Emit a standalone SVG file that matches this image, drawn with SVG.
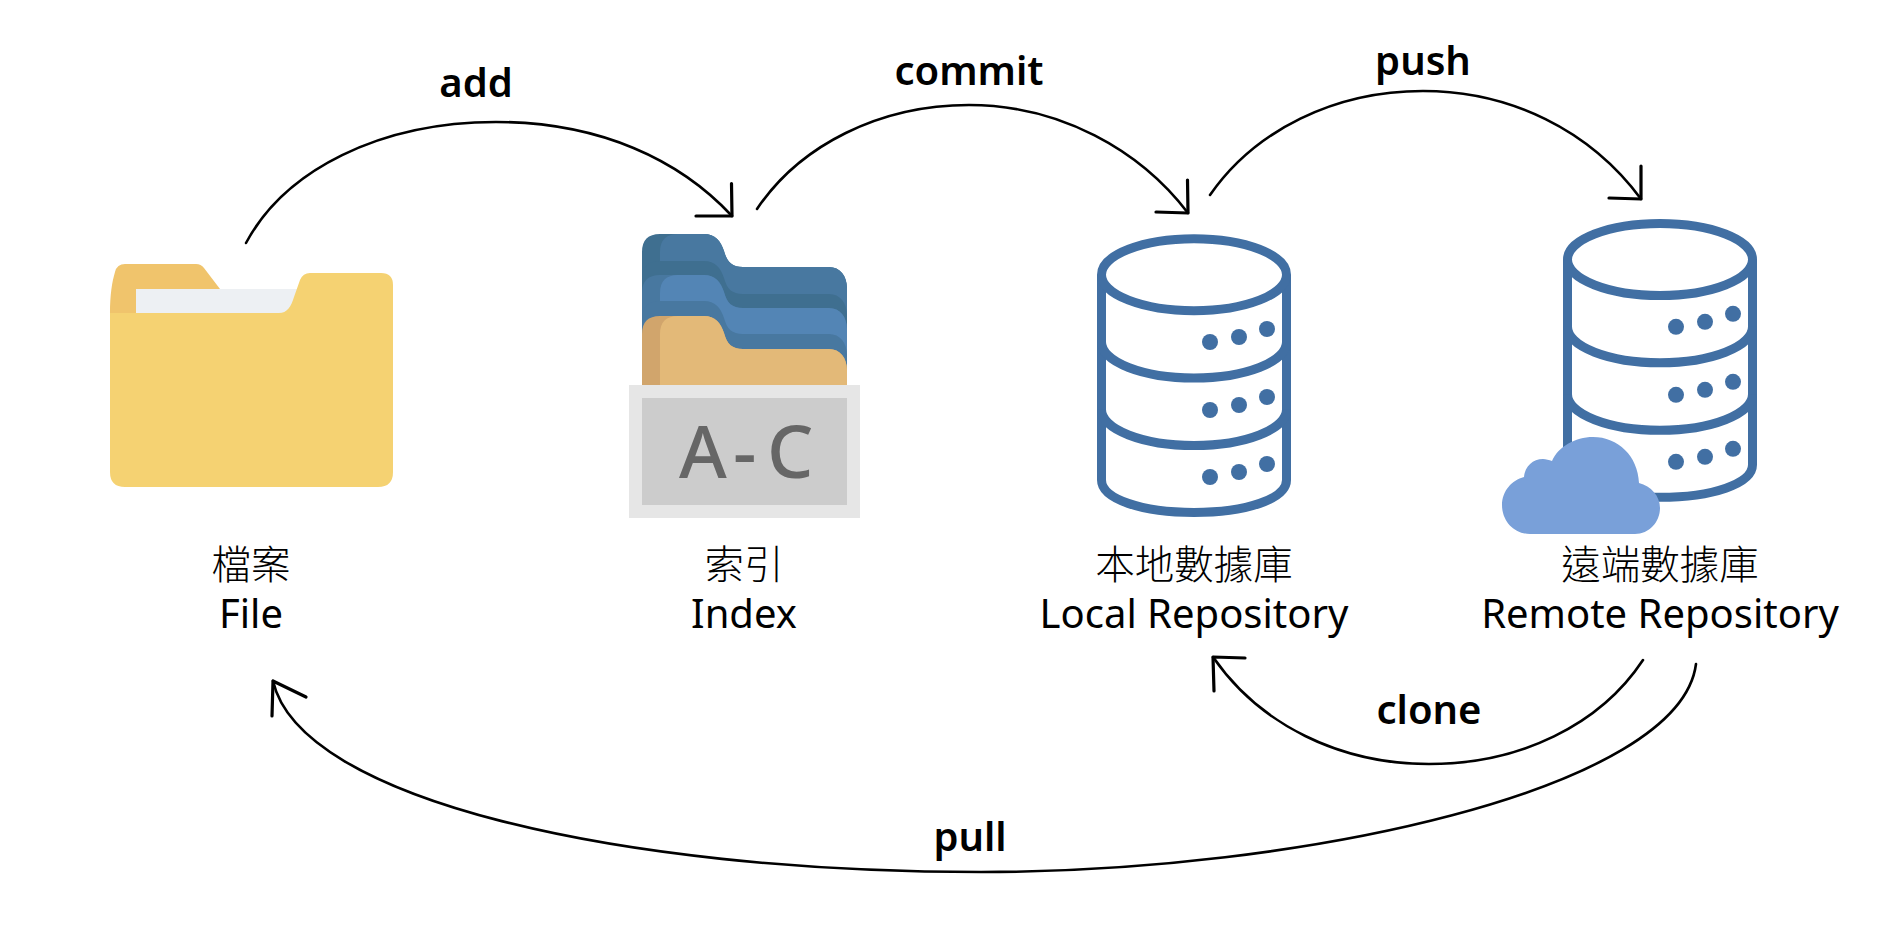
<svg xmlns="http://www.w3.org/2000/svg" xmlns:xlink="http://www.w3.org/1999/xlink" width="1899" height="940" viewBox="0 0 1899 940">
<style>
text{font-family:"Noto Sans","Noto Sans CJK TC",sans-serif;fill:#000;text-anchor:middle}
.n{font-size:40px}
.c{font-size:39.5px;font-weight:300;font-family:"Noto Sans CJK TC","Noto Sans",sans-serif}
.l{font-size:40px;font-weight:600}
.conn path{fill:none;stroke:#000;stroke-width:2.6;stroke-linecap:round;stroke-linejoin:round}
.conn .h{stroke-width:3.2}
.db{fill:none;stroke:#416fa3;stroke-width:9}
.dot{fill:#416fa3;stroke:none}
</style>
<defs>
<path id="tabFull" d="M642,151V18Q642,0 660,0H704C715,0 721,7 724,17C727,28 732,33 743,33H829C840,33 847,42 847,54V151Z"/>
<path id="tabInner" d="M660,151V18Q660,0 678,0H704C715,0 721,7 724,17C727,28 732,33 743,33H829C840,33 847,42 847,54V151Z"/>
<g id="dbShape">
<path class="db" d="M1101.5,274.7V480C1101.5,499 1142,512.5 1194,512.5C1246,512.5 1286.5,499 1286.5,480V274.7"/>
<ellipse class="db" cx="1194" cy="274.7" rx="92.5" ry="36"/>
<path class="db" d="M1101.5,342A92.5,36 0 0 0 1286.5,342M1101.5,409.5A92.5,36 0 0 0 1286.5,409.5"/>
<circle class="dot" cx="1210" cy="342" r="8"/><circle class="dot" cx="1239" cy="337" r="8"/><circle class="dot" cx="1267" cy="329" r="8"/>
<circle class="dot" cx="1210" cy="410" r="8"/><circle class="dot" cx="1239" cy="405" r="8"/><circle class="dot" cx="1267" cy="397" r="8"/>
<circle class="dot" cx="1210" cy="477" r="8"/><circle class="dot" cx="1239" cy="472" r="8"/><circle class="dot" cx="1267" cy="464" r="8"/>
</g>
</defs>
<rect width="1899" height="940" fill="#fff"/>
<g id="file">
<path fill="#f0c46c" d="M110,313C110,295 112,282 115,272Q117,264 125,264H196Q201,264 204,268L220,289V313Z"/>
<rect x="136" y="289" width="164" height="24" fill="#edf0f3"/>
<path fill="#f5d272" d="M110,313H279C287,313 291,307 294,297L300,280Q303,273 310,273H381Q393,273 393,285V472Q393,487 378,487H125Q110,487 110,472Z"/>
<text class="c" x="251" y="579">檔案</text>
<text class="n" x="251" y="628">File</text>
</g>
<g id="index">
<use xlink:href="#tabFull" href="#tabFull" y="234" fill="#3f6f90"/>
<use xlink:href="#tabInner" href="#tabInner" y="234" fill="#4878a0"/>
<use xlink:href="#tabFull" href="#tabFull" y="261" fill="#3f6f90"/>
<use xlink:href="#tabFull" href="#tabFull" y="275" fill="#4878a0"/>
<use xlink:href="#tabInner" href="#tabInner" y="275" fill="#5385b5"/>
<use xlink:href="#tabFull" href="#tabFull" y="301" fill="#4878a0"/>
<use xlink:href="#tabFull" href="#tabFull" y="316" fill="#d1a56c"/>
<use xlink:href="#tabInner" href="#tabInner" y="316" fill="#e3b978"/>
<rect x="629" y="385" width="231" height="133" fill="#e6e6e6"/>
<rect x="642" y="398" width="205" height="107" fill="#cccccc"/>
<text x="679 733 767" y="478" style="font-family:'Noto Sans',sans-serif;font-size:73px;font-weight:500;fill:#666;text-anchor:start">A-C</text>
<text class="c" x="744" y="579">索引</text>
<text class="n" x="744" y="628">Index</text>
</g>
<g id="local">
<use xlink:href="#dbShape" href="#dbShape"/>
<text class="c" x="1194" y="579">本地數據庫</text>
<text class="n" x="1194" y="628">Local Repository</text>
</g>
<g id="remote">
<use xlink:href="#dbShape" href="#dbShape" transform="translate(466,-15.2)"/>
<path fill="#79a0d9" d="M1530,534C1514,534 1502,521 1502,505C1502,491 1512,480 1524,477C1525,466 1533,459 1543,459C1546,459 1549,460 1552,461C1558,447 1575,437 1593,437C1618,437 1638,456 1639,483C1651,486 1660,496 1660,508C1660,522 1649,534 1635,534Z"/>
<text class="c" x="1660" y="579">遠端數據庫</text>
<text class="n" x="1660" y="628">Remote Repository</text>
</g>
<g id="connectors" class="conn">
<path d="M246,243C285,170 380,122 496,122C600,122 680,160 732,216"/><path class="h" d="M696,216H732L731.5,183.5"/>
<path d="M757,209C800,145 880,105 969,105C1060,105 1140,150 1188,213"/><path class="h" d="M1156,212L1188,213L1187.5,180"/>
<path d="M1210,195C1255,130 1335,91 1423,91C1510,91 1590,130 1641,199"/><path class="h" d="M1609,198L1641,199V166"/>
<path d="M1643,660C1600,725 1520,764 1429,764C1340,764 1260,725 1213,657"/><path class="h" d="M1245,658L1213,657L1214,691"/>
<path d="M1696,664C1680,790 1300,872 981,872C620,872 300,800 273,681"/><path class="h" d="M306,697L273,681L272,716"/>
</g>
<g id="labels">
<text class="l" x="476" y="97">add</text>
<text class="l" x="969" y="85">commit</text>
<text class="l" x="1423" y="75">push</text>
<text class="l" x="1429" y="724">clone</text>
<text class="l" x="970" y="851">pull</text>
</g>
</svg>
